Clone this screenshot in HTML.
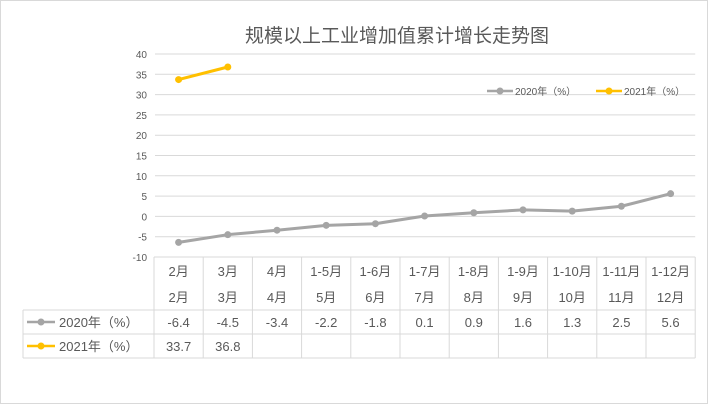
<!DOCTYPE html>
<html><head><meta charset="utf-8"><style>
body{margin:0;background:#fff}
svg{display:block;font-family:"Liberation Sans","Noto Sans CJK SC",sans-serif}
</style></head><body>
<svg id="c" width="709" height="405" viewBox="0 0 709 405">
<rect x="0.5" y="0.5" width="707" height="403" fill="#fff" stroke="#d9d9d9"/>
<text x="397" y="42" font-size="19" fill="#595959" text-anchor="middle">规模以上工业增加值累计增长走势图</text>
<g id="grid"></g><g id="marks"></g><g id="table"></g>
<g>
<line x1="487" y1="91" x2="513" y2="91" stroke="#a5a5a5" stroke-width="2.5"/><circle cx="500" cy="91" r="3.5" fill="#a5a5a5"/>
<text x="515" y="95" font-size="10" fill="#595959">2020年（%）</text>
<line x1="596" y1="91" x2="622" y2="91" stroke="#ffc000" stroke-width="2.5"/><circle cx="609" cy="91" r="3.5" fill="#ffc000"/>
<text x="624" y="95" font-size="10" fill="#595959">2021年（%）</text>
</g>
</svg>
<script>
const categories=["2月","3月","4月","1-5月","1-6月","1-7月","1-8月","1-9月","1-10月","1-11月","1-12月"];
const subLabels=["2月","3月","4月","5月","6月","7月","8月","9月","10月","11月","12月"];
const s2020=[-6.4,-4.5,-3.4,-2.2,-1.8,0.1,0.9,1.6,1.3,2.5,5.6];
const s2021=[33.7,36.8];
const yTicks=[40,35,30,25,20,15,10,5,0,-5,-10];
const NS="http://www.w3.org/2000/svg";
const x0=154,colW=49.2,yTop=54,yBot=257,yMin=-10,yMax=40;
const X=i=>x0+colW*(i+0.5);
const Y=v=>yBot-(v-yMin)/(yMax-yMin)*(yBot-yTop);
function mk(tag,attrs,parent,txt){const e=document.createElementNS(NS,tag);for(const k in attrs)e.setAttribute(k,attrs[k]);if(txt!==undefined)e.textContent=txt;parent.appendChild(e);return e;}
const grid=document.getElementById('grid'),marks=document.getElementById('marks'),table=document.getElementById('table');
const xEnd=x0+colW*categories.length;
yTicks.forEach(t=>{
 if(t!==yMin){const l=mk('line',{x1:x0+1,x2:xEnd,y1:Y(t),y2:Y(t),stroke:'#d9d9d9','stroke-width':1},grid);
 
 }
 const tx=mk('text',{x:147,y:Y(t)+4,'font-size':10,fill:'#595959','text-anchor':'end'},grid,String(t));
 
 
});
function series(vals,color,name){
 const p=vals.map((v,i)=>X(i)+','+Y(v)).join(' ');
 const pl=mk('polyline',{points:p,fill:'none',stroke:color,'stroke-width':3,'stroke-linejoin':'round'},marks);
 
 
 vals.forEach((v,i)=>{const c=mk('circle',{cx:X(i),cy:Y(v),r:3.5,fill:color},marks);
 
 });
}
series(s2020,'#a5a5a5','series-2020');
series(s2021,'#ffc000','series-2021');
const rows=[257,310,334,358];
const st={stroke:'#d9d9d9','stroke-width':1};
rows.forEach((y,k)=>{mk('line',Object.assign({x1:k>=1?23:x0,x2:xEnd,y1:y,y2:y},st),table);});
for(let i=0;i<=categories.length;i++){const x=x0+colW*i;mk('line',Object.assign({x1:x,x2:x,y1:257,y2:358},st),table);}
mk('line',Object.assign({x1:23,x2:23,y1:310,y2:358},st),table);
const txt=(x,y,s,name)=>{const t=mk('text',{x:x,y:y,'font-size':13,fill:'#595959','text-anchor':'middle'},table,s);
 
 };
categories.forEach((c,i)=>{txt(X(i),276,c,'category-label');txt(X(i),302,subLabels[i],'sub-category-label');txt(X(i),327,String(s2020[i]),'value-2020');});
s2021.forEach((v,i)=>txt(X(i),351,String(v),'value-2021'));
mk('line',{x1:27,x2:55,y1:322,y2:322,stroke:'#a5a5a5','stroke-width':2.5},table);mk('circle',{cx:41,cy:322,r:3.5,fill:'#a5a5a5'},table);
mk('line',{x1:27,x2:55,y1:346,y2:346,stroke:'#ffc000','stroke-width':2.5},table);mk('circle',{cx:41,cy:346,r:3.5,fill:'#ffc000'},table);
const a=mk('text',{x:59,y:327,'font-size':13,fill:'#595959'},table,'2020年（%）');


const b=mk('text',{x:59,y:351,'font-size':13,fill:'#595959'},table,'2021年（%）');


</script>
</body></html>
